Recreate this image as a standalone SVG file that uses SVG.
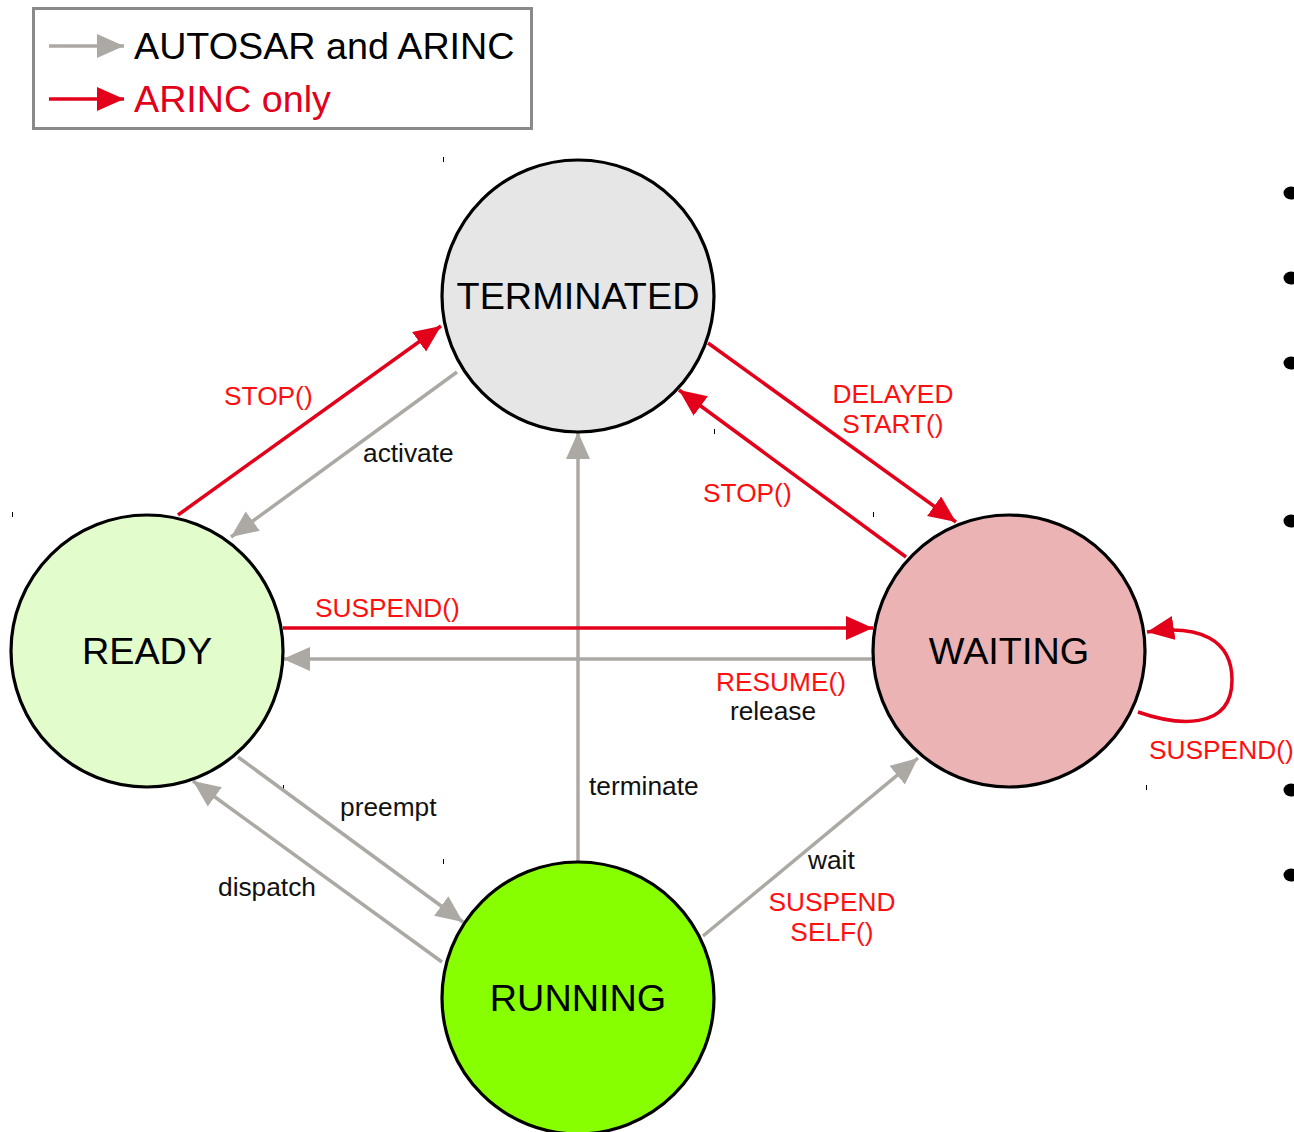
<svg xmlns="http://www.w3.org/2000/svg" width="1294" height="1132" viewBox="0 0 1294 1132">
  <defs>
    <style>
      .state { stroke: #000; stroke-width: 3.2; }
      .name { font-family: "Liberation Sans", Arial, sans-serif; font-size: 37.8px; fill: #000; text-anchor: middle; }
      .lbl { font-family: "Liberation Sans", Arial, sans-serif; font-size: 26.3px; }
      .blk { fill: #111; }
      .red { fill: #ff1010; }
      .both { stroke: #aca8a4; stroke-width: 3.5; fill: none; marker-end: url(#headGrey); }
      .arinc { stroke: #e2001a; stroke-width: 3.5; fill: none; marker-end: url(#headRed); }
      .tick { stroke: #000; stroke-width: 1; }
    </style>
    <marker id="headGrey" markerUnits="userSpaceOnUse" markerWidth="30" markerHeight="26" refX="27" refY="12" orient="auto">
      <path d="M0,0 L27,12 L0,24 z" fill="#aca8a4"/>
    </marker>
    <marker id="headRed" markerUnits="userSpaceOnUse" markerWidth="30" markerHeight="26" refX="27" refY="12" orient="auto">
      <path d="M0,0 L27,12 L0,24 z" fill="#e2001a"/>
    </marker>
  </defs>

  <rect width="1294" height="1132" fill="#fff"/>

  <!-- legend -->
  <g id="legend">
    <rect x="33.5" y="8.5" width="498" height="120" fill="#fff" stroke="#8a8a8a" stroke-width="3"/>
    <line class="both" x1="49" y1="46" x2="124" y2="46"/>
    <line class="arinc" x1="49" y1="99" x2="124" y2="99"/>
    <text x="134" y="59" font-family="Liberation Sans, Arial, sans-serif" font-size="37.7" fill="#000">AUTOSAR and ARINC</text>
    <text x="134" y="112" font-family="Liberation Sans, Arial, sans-serif" font-size="37.7" fill="#e2001a">ARINC only</text>
  </g>

  <!-- bullet marks along the right edge -->
  <g id="bullets" fill="#000">
    <ellipse cx="1291" cy="193" rx="7.5" ry="6.5"/>
    <ellipse cx="1291" cy="278" rx="7.5" ry="6.5"/>
    <ellipse cx="1291" cy="363" rx="7.5" ry="6.5"/>
    <ellipse cx="1291" cy="521" rx="7.5" ry="6.5"/>
    <ellipse cx="1291" cy="790" rx="7.5" ry="6.5"/>
    <ellipse cx="1291" cy="875" rx="7.5" ry="6.5"/>
  </g>

  <!-- bounding-box corner ticks -->
  <g id="ticks" class="tick">
    <line x1="443.5" y1="157" x2="443.5" y2="162"/>
    <line x1="714.5" y1="429" x2="714.5" y2="434"/>
    <line x1="12.5" y1="512" x2="12.5" y2="517"/>
    <line x1="283.5" y1="785" x2="283.5" y2="790"/>
    <line x1="873.5" y1="512" x2="873.5" y2="517"/>
    <line x1="1146.5" y1="785" x2="1146.5" y2="790"/>
    <line x1="443.5" y1="859" x2="443.5" y2="864"/>
  </g>

  <!-- connectors -->
  <g id="connectors">
    <line class="arinc" x1="178" y1="515" x2="441" y2="326"/>
    <line class="both" x1="457" y1="372" x2="231" y2="537"/>
    <line class="both" x1="578" y1="862" x2="578" y2="432"/>
    <line class="arinc" x1="708" y1="343" x2="956" y2="522"/>
    <line class="arinc" x1="906" y1="557" x2="679" y2="390"/>
    <line class="arinc" x1="283" y1="628" x2="873" y2="628"/>
    <line class="both" x1="873" y1="659" x2="283" y2="659"/>
    <line class="both" x1="238" y1="757" x2="463" y2="922"/>
    <line class="both" x1="442" y1="962" x2="193" y2="781"/>
    <line class="both" x1="703" y1="936" x2="918" y2="758"/>
    <path class="arinc" d="M1138,712 C1175,725 1232,732 1232,680 C1232,640 1200,624 1147,632"/>
  </g>

  <!-- states -->
  <g id="terminated">
    <circle class="state" cx="578" cy="296" r="136" fill="#e6e6e6"/>
    <text class="name" x="578" y="309">TERMINATED</text>
  </g>
  <g id="ready">
    <circle class="state" cx="147" cy="651" r="136" fill="#e2fccc"/>
    <text class="name" x="147" y="664">READY</text>
  </g>
  <g id="waiting">
    <circle class="state" cx="1009" cy="651" r="136" fill="#ebb3b3"/>
    <text class="name" x="1009" y="664">WAITING</text>
  </g>
  <g id="running">
    <circle class="state" cx="578" cy="998" r="136" fill="#88ff00"/>
    <text class="name" x="578" y="1011">RUNNING</text>
  </g>

  <!-- transition labels -->
  <g id="labels">
    <text class="lbl red" x="224" y="405">STOP()</text>
    <text class="lbl blk" x="363" y="462">activate</text>
    <text class="lbl red" x="893" y="403" text-anchor="middle">DELAYED</text>
    <text class="lbl red" x="893" y="433" text-anchor="middle">START()</text>
    <text class="lbl red" x="703" y="502">STOP()</text>
    <text class="lbl red" x="315" y="617">SUSPEND()</text>
    <text class="lbl red" x="781" y="691" text-anchor="middle">RESUME()</text>
    <text class="lbl blk" x="773" y="720" text-anchor="middle">release</text>
    <text class="lbl red" x="1149" y="759">SUSPEND()</text>
    <text class="lbl blk" x="589" y="795">terminate</text>
    <text class="lbl blk" x="340" y="816">preempt</text>
    <text class="lbl blk" x="218" y="896">dispatch</text>
    <text class="lbl blk" x="808" y="869">wait</text>
    <text class="lbl red" x="832" y="911" text-anchor="middle">SUSPEND</text>
    <text class="lbl red" x="832" y="941" text-anchor="middle">SELF()</text>
  </g>
</svg>
